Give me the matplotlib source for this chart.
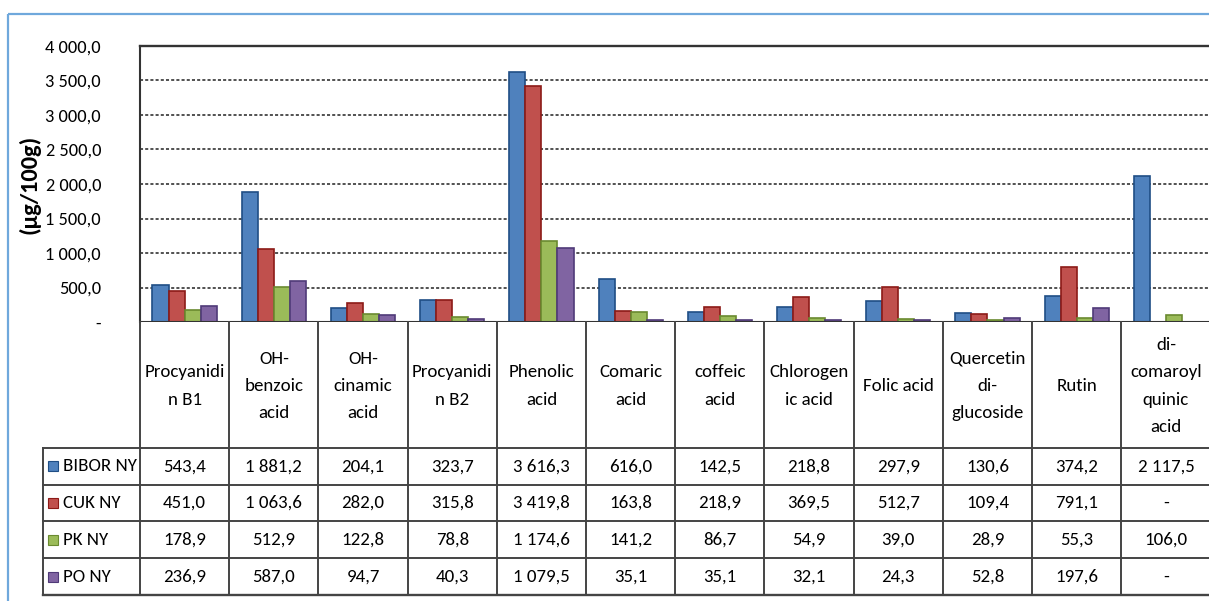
import matplotlib
matplotlib.use("Agg")
import matplotlib.pyplot as plt
from matplotlib.patches import Rectangle
import numpy as np

plt.rcParams['font.family'] = ['Carlito', 'Lato', 'DejaVu Sans']

categories = ["Procyanidi\nn B1", "OH-\nbenzoic\nacid", "OH-\ncinamic\nacid", "Procyanidi\nn B2",
              "Phenolic\nacid", "Comaric\nacid", "coffeic\nacid", "Chlorogen\nic acid",
              "Folic acid", "Quercetin\ndi-\nglucoside", "Rutin", "di-\ncomaroyl\nquinic\nacid"]
series_names = ["BIBOR NY", "CUK NY", "PK NY", "PO NY"]
bibor = [543.4, 1881.2, 204.1, 323.7, 3616.3, 616.0, 142.5, 218.8, 297.9, 130.6, 374.2, 2117.5]
cuk = [451.0, 1063.6, 282.0, 315.8, 3419.8, 163.8, 218.9, 369.5, 512.7, 109.4, 791.1, None]
pk = [178.9, 512.9, 122.8, 78.8, 1174.6, 141.2, 86.7, 54.9, 39.0, 28.9, 55.3, 106.0]
po = [236.9, 587.0, 94.7, 40.3, 1079.5, 35.1, 35.1, 32.1, 24.3, 52.8, 197.6, None]
series = [bibor, cuk, pk, po]
y_ticks = [0, 500, 1000, 1500, 2000, 2500, 3000, 3500, 4000]

fills = ["#4F81BD", "#C0504D", "#9BBB59", "#8064A2"]
edges = ["#1F4E85", "#8C1A17", "#6A8A30", "#4F3A78"]
FS = 13.6

W, H = 1209, 601
fig = plt.figure(figsize=(W / 100, H / 100), dpi=100)


def px_axes(x0, y0, x1, y1):
    return fig.add_axes([x0 / W, 1 - y1 / H, (x1 - x0) / W, (y1 - y0) / H])


def fmt(v):
    if v is None:
        return "-"
    s = f"{v:,.1f}"
    return s.replace(",", " ").replace(".", ",")


# outer chart frame
frame = fig.add_axes([0, 0, 1, 1])
frame.set_xlim(0, W)
frame.set_ylim(H, 0)
frame.axis("off")
frame.add_patch(Rectangle((8, 14), W + 20, H + 20, fill=False, ec="#6FA8DC", lw=1.6))

# bar chart
n = len(categories)
col_w = (1210.5 - 140) / n
ax = px_axes(140, 46, 1210.5, 322)
x = np.arange(n)
bw = 0.18
for k, vals in enumerate(series):
    xs = [xi + (k - 1.5) * bw for xi, v in zip(x, vals) if v is not None]
    hs = [v for v in vals if v is not None]
    ax.bar(xs, hs, width=bw, color=fills[k], edgecolor=edges[k], linewidth=1.2, zorder=3)
ax.set_xlim(-0.5, n - 0.5)
ax.set_ylim(0, 4000)
ax.set_yticks(y_ticks)
ax.set_yticklabels(["-" if t == 0 else fmt(t) for t in y_ticks], fontsize=13.2)
ax.tick_params(axis="y", length=0, pad=28)
ax.set_xticks([])
for yv in y_ticks[1:-1]:
    ax.axhline(yv, color="#222222", lw=1.1, ls=(0, (2.0, 1.4)), zorder=1)
for s in ["right", "bottom"]:
    ax.spines[s].set_visible(False)
ax.spines["top"].set_linewidth(1.7)
ax.spines["top"].set_color("#333333")
ax.spines["left"].set_linewidth(1.5)
ax.spines["left"].set_color("#333333")
ax.axhline(0, color="#333333", lw=1.5, zorder=4)
ax.set_ylabel("(µg/100g)", fontsize=17.5, fontweight="bold")
ax.yaxis.set_label_coords(-100 / (1210.5 - 140), 0.5)

# data table beneath the chart
tab = px_axes(43, 322, 1210.5, 596)
leg_w = (140 - 43) / col_w
tab.set_xlim(-0.5 - leg_w, n - 0.5)
tab.set_ylim(274, 0)
tab.axis("off")
row_edges = [126, 162.6, 199.4, 236.2, 273]
lc = "#444444"
for xb in np.arange(n + 1) - 0.5:
    tab.plot([xb, xb], [0, 273], color=lc, lw=1.4, clip_on=False)
tab.plot([-0.5 - leg_w] * 2, [126, 273], color=lc, lw=1.4, clip_on=False)
for yb in row_edges:
    tab.plot([-0.5 - leg_w, n - 0.5], [yb, yb], color=lc, lw=1.7 if yb == 273 else 1.4,
             clip_on=False)

for i, c in enumerate(categories):
    tab.text(i, 64, c, ha="center", va="center", fontsize=FS, linespacing=1.85)

for k, (name, vals) in enumerate(zip(series_names, series)):
    yc = (row_edges[k] + row_edges[k + 1]) / 2
    tab.add_patch(Rectangle((-0.5 - leg_w + 5 / col_w, yc - 5), 10 / col_w, 10,
                            fc=fills[k], ec=edges[k], lw=0.8))
    tab.text(-0.5 - leg_w + 20 / col_w, yc, name, ha="left", va="center", fontsize=FS)
    for i, v in enumerate(vals):
        tab.text(i, yc, fmt(v), ha="center", va="center", fontsize=FS)

fig.savefig("out.png", dpi=100)
